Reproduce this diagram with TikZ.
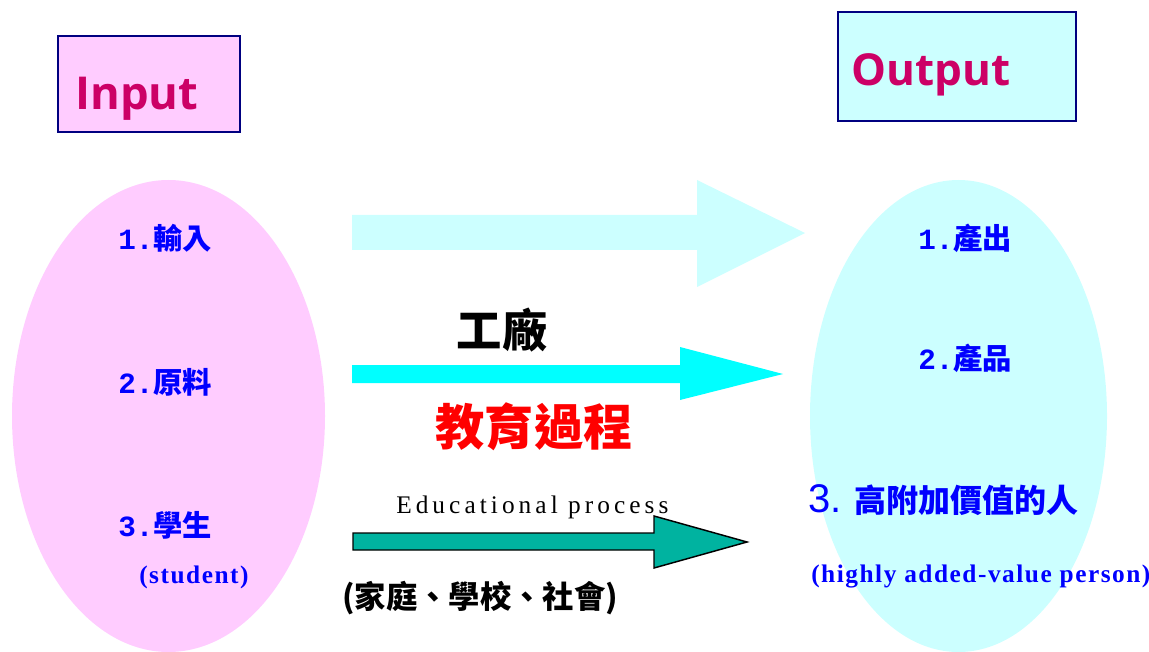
\documentclass[tikz,border=0pt]{standalone}
\usepackage{fontspec}
\usetikzlibrary{shapes.geometric}
\newfontfamily\cjk{Noto Sans CJK TC}
\newfontfamily\labfont{Liberation Mono}
\newfontfamily\headfont{Open Sans}
\newfontfamily\numfont{Liberation Sans}
\newfontfamily\edufont{Liberation Serif}[LetterSpace=16]
\newfontfamily\notefont{Liberation Serif}[LetterSpace=6]
\definecolor{pinkfill}{HTML}{FFCCFF}
\definecolor{palecyan}{HTML}{CCFFFF}
\definecolor{brightcyan}{HTML}{00FFFF}
\definecolor{headred}{HTML}{CC0066}
\definecolor{boxline}{HTML}{000080}
\definecolor{itemblue}{HTML}{0000FF}
\definecolor{tealarrow}{HTML}{00B3A0}
\tikzset{
  headbox/.style={draw=boxline, line width=1.5pt, inner sep=0pt},
  headtxt/.style={text=headred, font=\headfont\bfseries\fontsize{34pt}{40pt}\selectfont, inner sep=0pt, anchor=base west},
  blob/.style={ellipse, draw=none, inner sep=0pt, minimum height=354pt},
  item/.style={text=itemblue, font=\bfseries\fontsize{22pt}{26pt}\selectfont, inner sep=0pt, anchor=west},
  note/.style={text=itemblue, font=\notefont\bfseries\fontsize{19pt}{22pt}\selectfont, inner sep=0pt, anchor=west},
}
\begin{document}
\begin{tikzpicture}[x=0.75pt, y=-0.75pt]
  \useasboundingbox (0,0) rectangle (1149,652);

  % the two sets
  \node[blob, fill=pinkfill, minimum width=234.75pt] (inSet) at (168.5,416) {};
  \node[blob, fill=palecyan, minimum width=222.75pt] (outSet) at (958.5,416) {};

  % headings
  \node[headbox, fill=pinkfill, minimum width=136.5pt, minimum height=72pt] (inBox) at (149,84) {};
  \node[headtxt] (inTxt) at (75,110) {Input};
  \node[headbox, fill=palecyan, minimum width=178.5pt, minimum height=81.75pt] (outBox) at (957,66.5) {};
  \node[headtxt, font=\headfont\bfseries\fontsize{33pt}{40pt}\selectfont] (outTxt) at (851,86) {Output};

  % block arrows
  \fill[palecyan] (352,215) -- (697,215) -- (697,180) -- (805,233)
    -- (697,287) -- (697,250) -- (352,250) -- cycle;
  \fill[brightcyan] (352,365) -- (680,365) -- (680,347) -- (783,374)
    -- (680,400) -- (680,383) -- (352,383) -- cycle;
  \filldraw[fill=tealarrow, draw=black, line width=1.1pt] (353,533) -- (654,533) -- (654,516) -- (747,542)
    -- (654,568) -- (654,550) -- (353,550) -- cycle;

  % input side
  \node[item] (in1) at (118,238) {\labfont 1.\cjk 輸入};
  \node[item] (in2) at (118,382) {\labfont 2.\cjk 原料};
  \node[item] (in3) at (118,525) {\labfont 3.\cjk 學生};
  \node[note] (in3e) at (139,577) {(student)};

  % middle
  \node[inner sep=0pt, font=\cjk\bfseries\fontsize{34pt}{38pt}\selectfont] (plant) at (502,330) {工廠};
  \node[inner sep=0pt, text=red, font=\cjk\bfseries\fontsize{37pt}{42pt}\selectfont] (edu) at (534,427) {教育過程};
  \node[inner sep=0pt, anchor=base west, font=\edufont\fontsize{19pt}{22pt}\selectfont] (eduE) at (396,513) {Educational process};
  \node[inner sep=0pt, font=\cjk\bfseries\fontsize{23.5pt}{26pt}\selectfont] (where) at (480,598) {(家庭、學校、社會)};

  % output side
  \node[item] (out1) at (918,238) {\labfont 1.\cjk 產出};
  \node[item] (out2) at (918,358) {\labfont 2.\cjk 產品};
  \node[item, font=\bfseries\fontsize{24pt}{28pt}\selectfont] (out3) at (808,500)
    {{\numfont\mdseries\fontsize{30pt}{30pt}\selectfont 3.}\hspace{10pt}\cjk 高附加價值的人};
  \node[note] (out3e) at (811,577) {(highly added-value person)};
\end{tikzpicture}
\end{document}
